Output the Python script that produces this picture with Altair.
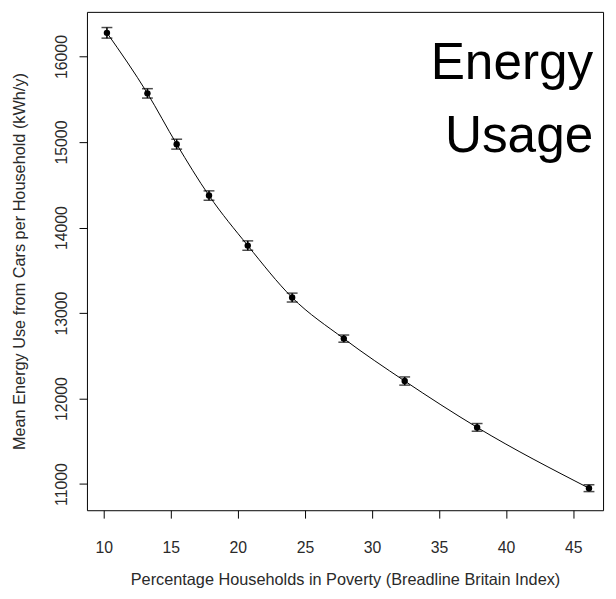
import altair as alt
import pandas as pd

# Data
poverty = [10.24, 13.26, 15.44, 17.85, 20.74, 24.05, 27.90, 32.44, 37.84, 46.18]
energy = [16277, 15569, 14975, 14374, 13789, 13181, 12701, 12205, 11663, 10952]
err = [62, 55, 58, 55, 55, 52, 42, 48, 45, 40]
x_ticks = [10, 15, 20, 25, 30, 35, 40, 45]
y_ticks = [11000, 12000, 13000, 14000, 15000, 16000]
x_title = "Percentage Households in Poverty (Breadline Britain Index)"
y_title = "Mean Energy Use from Cars per Household (kWh/y)"
label_line1 = "Energy"
label_line2 = "Usage"

df = pd.DataFrame({"poverty": poverty, "energy": energy, "err": err})

W, H = 523, 505
FONT = "Liberation Sans"
TXT = "#2a2a2a"

xs = alt.Scale(domain=[8.75, 47.23], nice=False, zero=False)
ys = alt.Scale(domain=[10694, 16522], nice=False, zero=False)

x_axis = alt.Axis(
    values=x_ticks, title=x_title, grid=False, domain=False, format="d",
    tickSize=8, tickColor="black", tickWidth=1,
    labelFont=FONT, labelFontSize=16, labelColor=TXT, labelPadding=22,
    titleFont=FONT, titleFontSize=16.5, titleFontWeight="normal", titleColor=TXT,
    titlePadding=16,
)
y_axis = alt.Axis(
    values=y_ticks, title=y_title, grid=False, domain=False, format="d",
    tickSize=8, tickColor="black", tickWidth=1,
    labelFont=FONT, labelFontSize=16, labelColor=TXT, labelPadding=10,
    labelAngle=270, labelAlign="center", labelBaseline="bottom",
    titleFont=FONT, titleFontSize=16.5, titleFontWeight="normal", titleColor=TXT,
    titlePadding=26,
)

base = alt.Chart(df).transform_calculate(
    lo="datum.energy - datum.err", hi="datum.energy + datum.err"
)

line = base.mark_line(color="black", strokeWidth=1, interpolate="monotone").encode(
    x=alt.X("poverty:Q", scale=xs, axis=x_axis),
    y=alt.Y("energy:Q", scale=ys, axis=y_axis),
)
bars = base.mark_rule(color="black", strokeWidth=1.6).encode(
    x=alt.X("poverty:Q", scale=xs),
    y=alt.Y("lo:Q", scale=ys),
    y2="hi:Q",
)
cap_lo = base.mark_tick(color="black", orient="horizontal", size=11, thickness=1.5).encode(
    x=alt.X("poverty:Q", scale=xs),
    y=alt.Y("lo:Q", scale=ys),
)
cap_hi = base.mark_tick(color="black", orient="horizontal", size=11, thickness=1.5).encode(
    x=alt.X("poverty:Q", scale=xs),
    y=alt.Y("hi:Q", scale=ys),
)
pts = base.mark_circle(color="black", opacity=1, size=42).encode(
    x=alt.X("poverty:Q", scale=xs),
    y=alt.Y("energy:Q", scale=ys),
)

t1 = alt.Chart(pd.DataFrame({"t": [label_line1]})).mark_text(
    font=FONT, fontSize=52, align="right", baseline="alphabetic", color="black"
).encode(text="t:N", x=alt.value(513), y=alt.value(68))
t2 = alt.Chart(pd.DataFrame({"t": [label_line2]})).mark_text(
    font=FONT, fontSize=52, align="right", baseline="alphabetic", color="black"
).encode(text="t:N", x=alt.value(513), y=alt.value(142))

chart = alt.layer(line, bars, cap_lo, cap_hi, pts, t1, t2).properties(
    width=W, height=H,
    autosize=alt.AutoSizeParams(type="none"),
    padding={"left": 80, "top": 0, "right": 5, "bottom": 85},
    background="white",
).configure_view(stroke="black", strokeWidth=1)

chart.save("out.html", embed_options={"renderer": "svg", "actions": False})
